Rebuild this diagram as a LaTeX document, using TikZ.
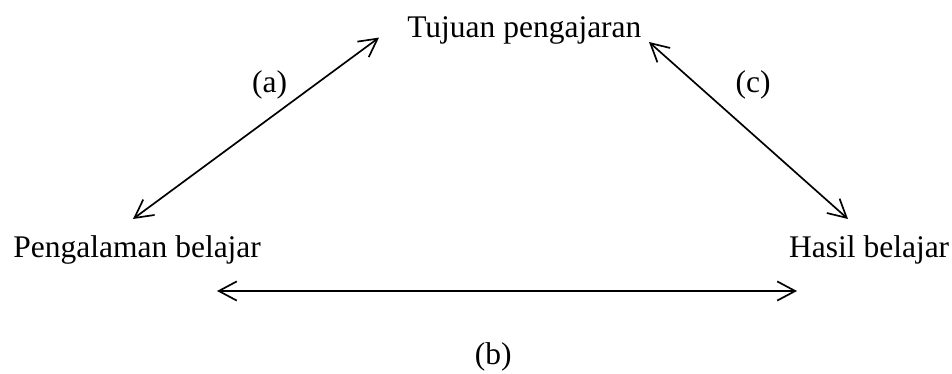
\documentclass[tikz,border=0pt]{standalone}
\usepackage{fontspec}
\setmainfont{Liberation Serif}
\usetikzlibrary{arrows.meta}

\begin{document}
\begin{tikzpicture}[
  txt/.style={font=\fontsize{22.4}{27}\selectfont, inner sep=0pt, anchor=base},
  line width=1.2pt,
  {Straight Barb[length=0.45cm, width=0.48cm]}-{Straight Barb[length=0.45cm, width=0.48cm]},
]
  \useasboundingbox (0,0) rectangle (23.8,9.35);

  \node[txt] (tujuan) at (13.11, 8.41) {Tujuan pengajaran};
  \node[txt] (peng)   at (3.43, 2.9)   {Pengalaman belajar};
  \node[txt] (hasil)  at (21.73, 2.9)  {Hasil belajar};

  \node[txt] (la) at (6.74, 7.03)  {(a)};
  \node[txt] (lb) at (12.33, 0.225) {(b)};
  \node[txt] (lc) at (18.83, 7.03) {(c)};

  \coordinate (a1) at (3.325, 3.875);
  \coordinate (a2) at (9.475, 8.41);
  \coordinate (c1) at (16.225, 8.3);
  \coordinate (c2) at (21.2, 3.875);
  \coordinate (b1) at (5.425, 2.075);
  \coordinate (b2) at (19.925, 2.075);

  \draw (a1) -- (a2);
  \draw (c1) -- (c2);
  \draw (b1) -- (b2);
\end{tikzpicture}
\end{document}
